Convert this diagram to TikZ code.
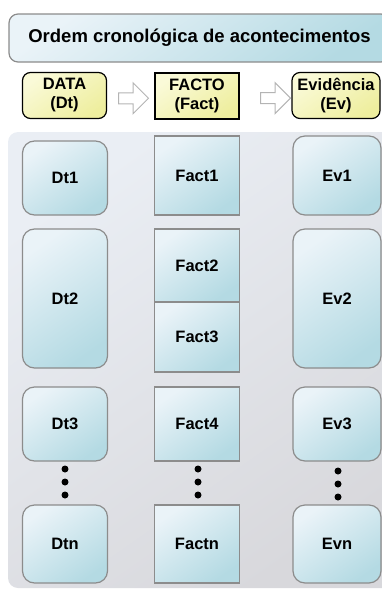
\documentclass[tikz,border=0pt]{standalone}
\usepackage{fontspec}
\setmainfont{Liberation Sans}
\usetikzlibrary{positioning, calc, shapes.arrows}

\definecolor{celltop}{HTML}{EAF3F8}
\definecolor{cellbot}{HTML}{B4DAE3}
\definecolor{headtop}{HTML}{FAFAD8}
\definecolor{headbot}{HTML}{EEEE9E}
\definecolor{paneltop}{HTML}{EAEEF4}
\definecolor{panelbot}{HTML}{D8D8DC}
\definecolor{edgegray}{HTML}{8C8C8C}
\definecolor{arrowgray}{HTML}{B4B4B4}

\begin{document}
\begin{tikzpicture}[
        x=1pt, y=-1pt,
        font=\fontsize{16.5}{19}\selectfont\bfseries,
        cell/.style={draw=edgegray, line width=1.2pt, top color=celltop, bottom color=cellbot, shading angle=35, minimum width=85, inner sep=0pt},
        roundcell/.style={cell, rounded corners=12},
        titlebox/.style={cell, rounded corners=9, minimum width=381, minimum height=48, font=\fontsize{18.5}{20}\selectfont\bfseries},
        head/.style={draw=black, line width=1.2pt, top color=headtop, bottom color=headbot, shading angle=35, minimum width=84, minimum height=46, align=center, inner sep=0pt},
        flow/.style={single arrow, draw=arrowgray, fill=white, line width=1pt, minimum height=30, inner sep=5pt, single arrow head extend=10pt, single arrow head indent=0pt, yshift=-2.5pt},
    ]

        \path[use as bounding box, clip] (0,0) rectangle (382,589);

        % Draw the background panel
        \shade[rounded corners=10, top color=paneltop, bottom color=panelbot, shading angle=35] (8,132) rectangle (400,588);

        % Draw the header
        \node[titlebox] (title) at (199.5,38) {Ordem cronológica de acontecimentos};
        \node[head, rounded corners=8] (hd-Dt) at (64.5,95.5) {DATA\\(Dt)};
        \node[head] (hd-Fact) at (197,96) {FACTO\\(Fact)};
        \node[head, rounded corners=8, minimum width=88] (hd-Ev) at (336,95.5) {Evidência\\(Ev)};

        \node[flow] (ar-1) at ($(hd-Dt.east)!0.5!(hd-Fact.west)$) {};
        \node[flow] (ar-2) at ($(hd-Fact.east)!0.64!(hd-Ev.west)$) {};

        % Draw the date column
        \foreach \name / \y / \h in {1/178/74, 2/298.5/139, 3/424/74, n/544/78}
            \node[roundcell, minimum height=\h] (Dt-\name) at (65,\y) {Dt\name};

        % Draw the fact column
        \foreach \name / \y / \h in {1/175.5/79, 2/265.5/73, 3/337/70, 4/424/74, n/544/78}
            \node[cell, minimum height=\h] (Fact-\name) at (197,\y) {Fact\name};

        % Draw the evidence column
        \foreach \name / \y / \h in {1/175.5/79, 2/298.5/139, 3/424/74, n/544/78}
            \node[roundcell, minimum width=88, minimum height=\h] (Ev-\name) at (337,\y) {Ev\name};

        % Dots between the third and the last row
        \foreach \x / \dy in {65/0, 198/0, 338/2}
            \foreach \y in {469, 482, 495}
                \fill (\x, \y+\dy) circle (3.5pt);
    \end{tikzpicture}
\end{document}
